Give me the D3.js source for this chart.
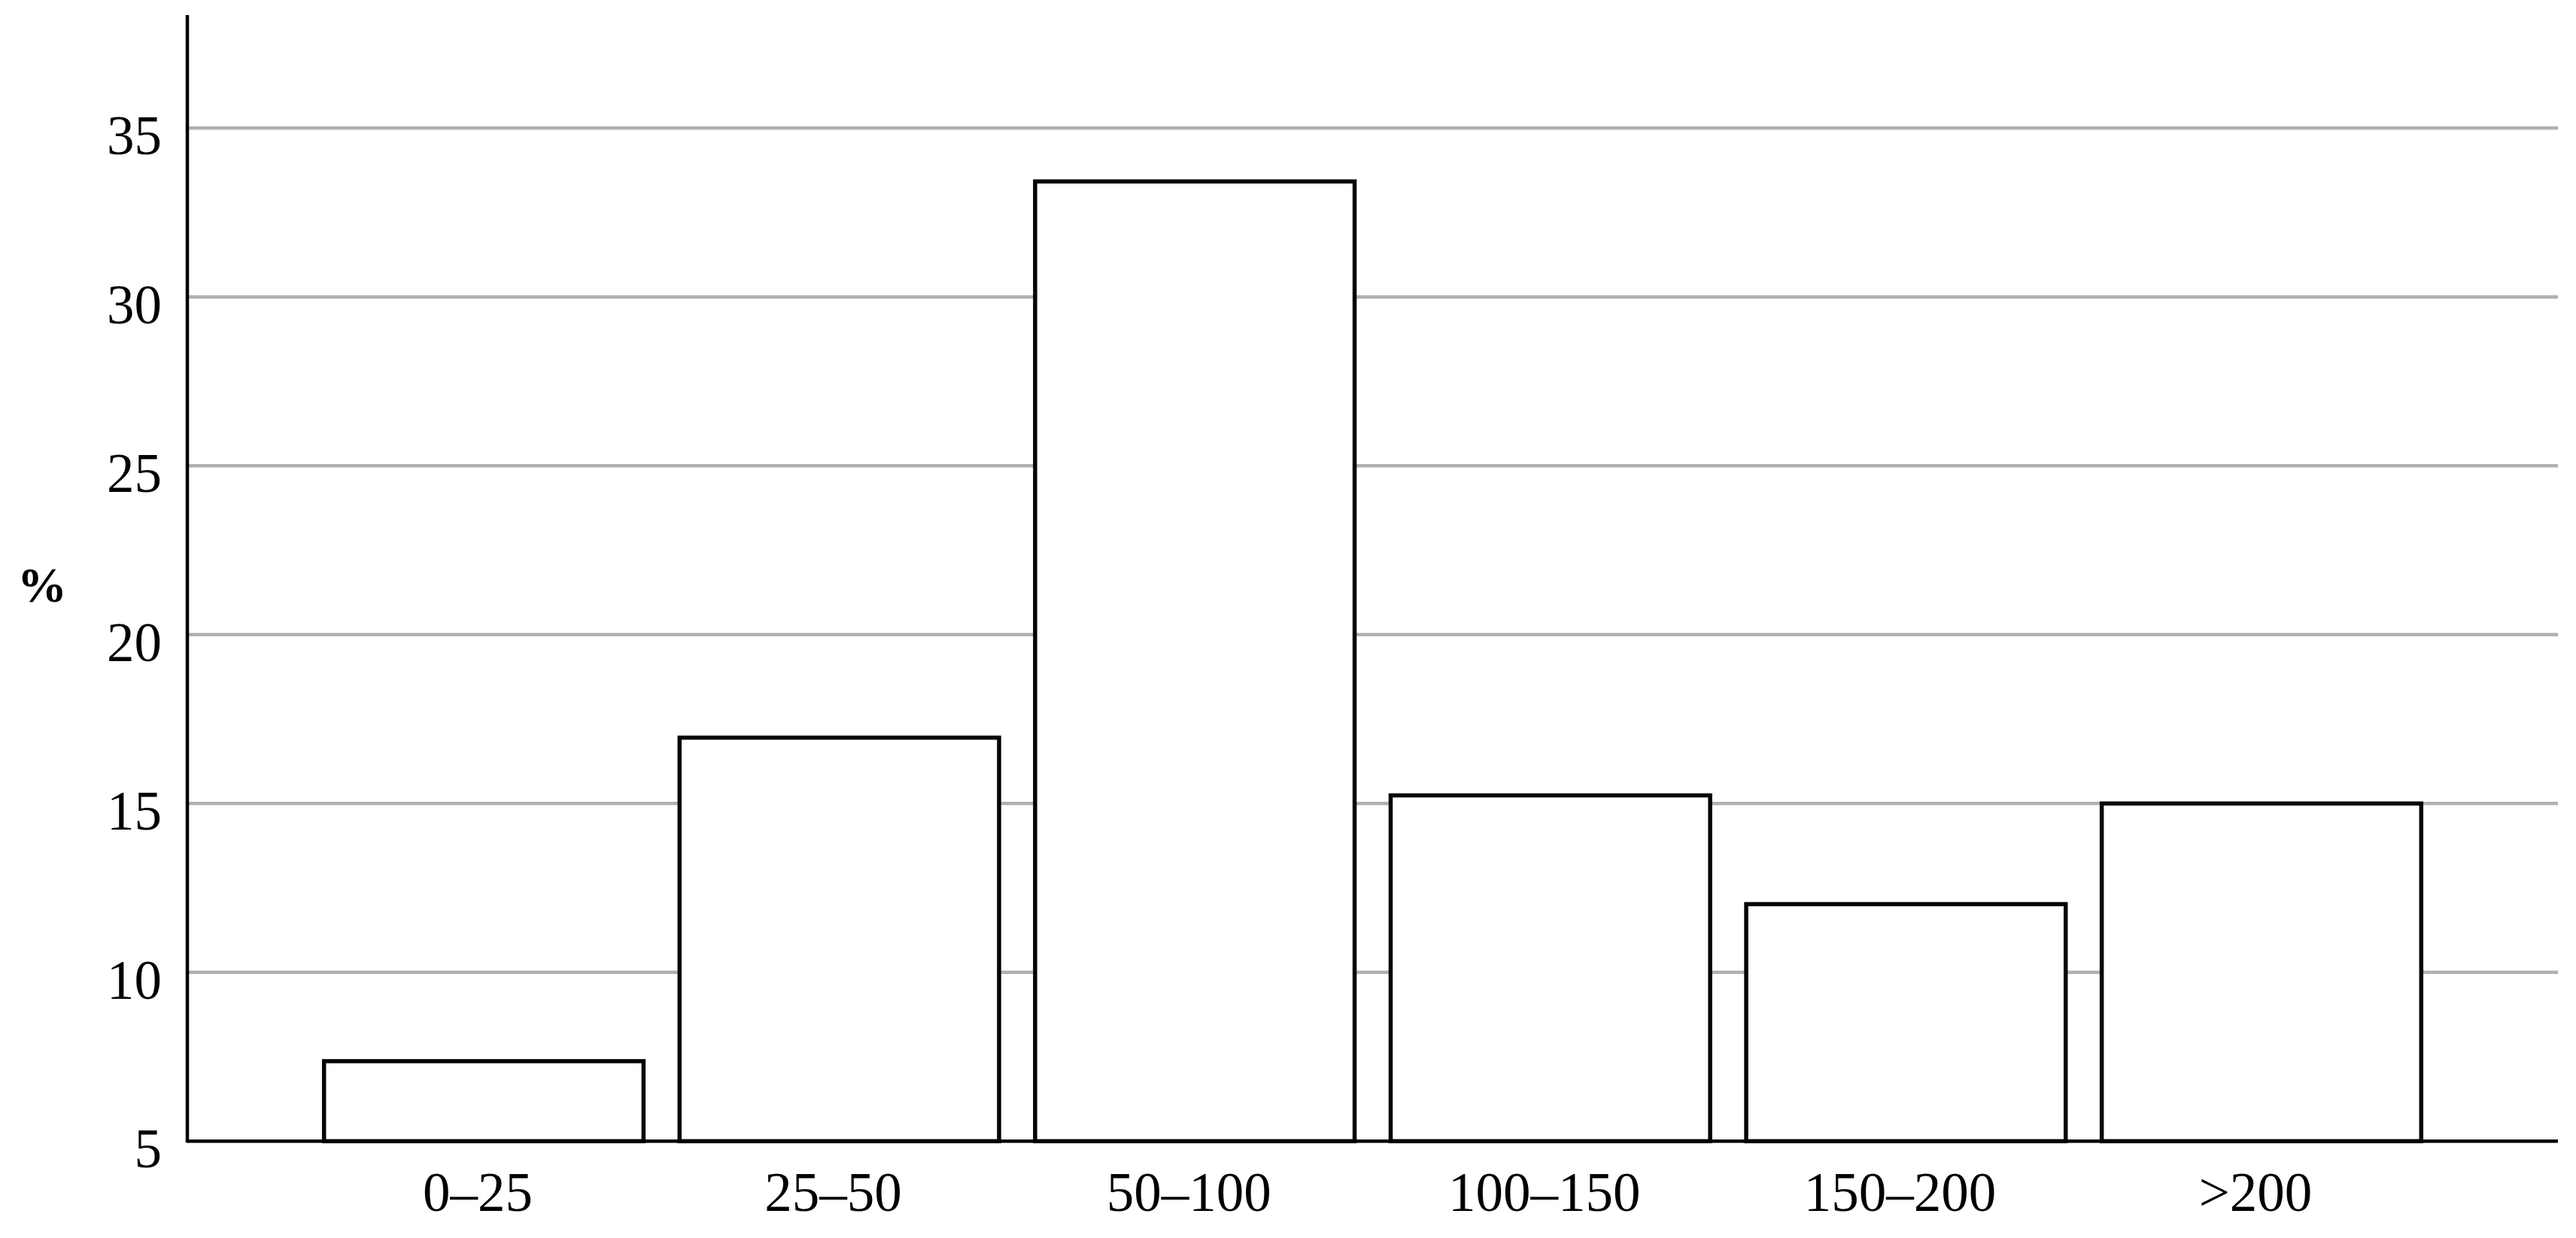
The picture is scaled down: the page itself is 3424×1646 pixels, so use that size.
<!DOCTYPE html>
<html>
<head>
<meta charset="utf-8">
<script src="https://cdn.jsdelivr.net/npm/d3@7"></script>
<style>
  html, body { margin: 0; padding: 0; background: #ffffff; }
  svg { display: block; }
  text { font-family: "Palatino Linotype", "Book Antiqua", Palatino, "Liberation Serif", serif; fill: #000; }
</style>
</head>
<body>
<svg id="chart" width="3424" height="1646"></svg>
<script>
// ---- data ----
const categories = ["0–25", "25–50", "50–100", "100–150", "150–200", ">200"];
const values = [7.37, 16.95, 33.42, 15.24, 12.02, 15.0];
const yTicks = [5, 10, 15, 20, 25, 30, 35];
const yLabel = "%";

// ---- layout ----
const axisX = 249, axisRight = 3400;
const yBase = 1517.3, yTop = 20;
const fontStack = "\"Palatino Linotype\", \"Book Antiqua\", Palatino, \"Liberation Serif\", serif";

const svg = d3.select("#chart");

const x = d3.scaleBand()
  .domain(categories)
  .range([axisX, axisRight])
  .paddingInner(0.1014)
  .paddingOuter(0.3845);

const y = d3.scaleLinear()
  .domain([5, 35])
  .range([yBase, 170.3]);

// gridlines
svg.append("g")
  .selectAll("line")
  .data(yTicks.filter(d => d > 5))
  .join("line")
  .attr("x1", axisX)
  .attr("x2", axisRight)
  .attr("y1", d => y(d))
  .attr("y2", d => y(d))
  .attr("stroke", "#b0b0b0")
  .attr("stroke-width", 4.5);

// y tick labels via axis
const yAxis = d3.axisLeft(y).tickValues(yTicks).tickSize(0).tickPadding(0).tickFormat(d3.format("d"));
const gy = svg.append("g").attr("transform", `translate(${axisX - 34},0)`).call(yAxis);
gy.select(".domain").remove();
gy.selectAll("text")
  .attr("font-size", 73)
  .attr("dy", "0.47em")
  .attr("font-family", fontStack)
  .attr("fill", "#000");

// bars
svg.append("g")
  .selectAll("rect")
  .data(values)
  .join("rect")
  .attr("x", (d, i) => x(categories[i]))
  .attr("width", x.bandwidth())
  .attr("y", d => y(d))
  .attr("height", d => y(5) - y(d))
  .attr("fill", "#ffffff")
  .attr("stroke", "#050505")
  .attr("stroke-width", 5.5);

// x axis (baseline) and y axis lines
svg.append("line")
  .attr("x1", axisX).attr("x2", axisRight)
  .attr("y1", yBase).attr("y2", yBase)
  .attr("stroke", "#000").attr("stroke-width", 4.5);
svg.append("line")
  .attr("x1", axisX).attr("x2", axisX)
  .attr("y1", yTop).attr("y2", yBase + 2)
  .attr("stroke", "#000").attr("stroke-width", 4.5);

// x labels via axis
const xAxis = d3.axisBottom(x).tickSize(0).tickPadding(0);
const gx = svg.append("g").attr("transform", `translate(-8,${yBase})`).call(xAxis);
gx.select(".domain").remove();
gx.selectAll("text")
  .attr("font-size", 73)
  .attr("dy", null)
  .attr("y", 93)
  .attr("font-family", fontStack)
  .attr("fill", "#000");

// y label
svg.append("text")
  .attr("x", 56)
  .attr("y", 800)
  .attr("text-anchor", "middle")
  .attr("font-size", 66)
  .attr("font-weight", "bold")
  .text(yLabel);
</script>
</body>
</html>
